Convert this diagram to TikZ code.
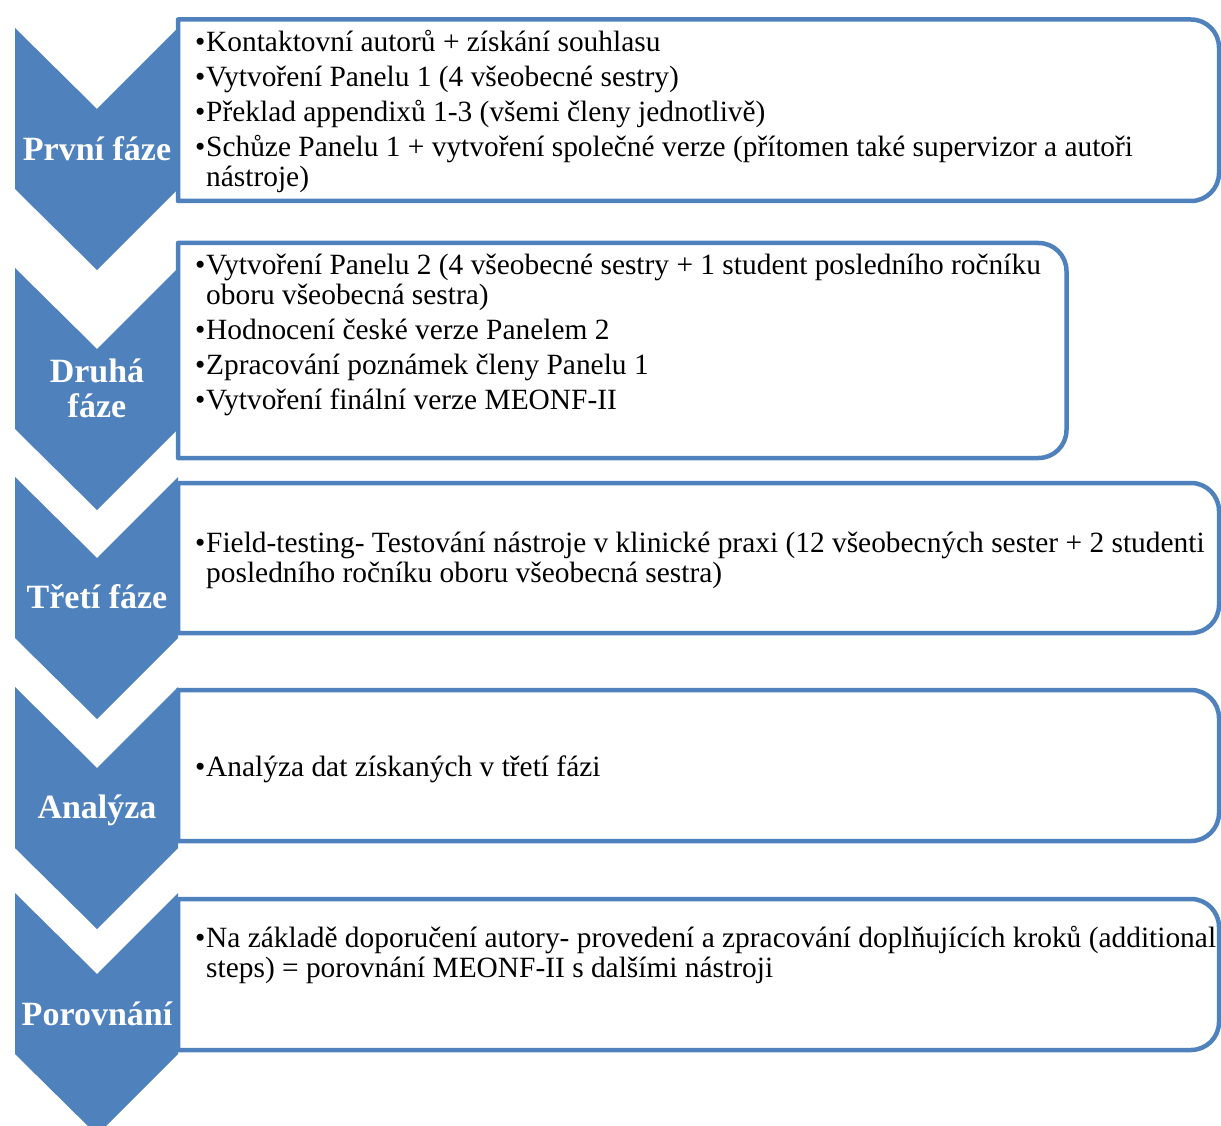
\documentclass[tikz,border=0pt]{standalone}
\usepackage{fontspec}
\setmainfont{Liberation Serif}
\definecolor{ofblue}{HTML}{4F81BD}
\tikzset{
  chev/.style={fill=ofblue, draw=none},
  boxline/.style={draw=ofblue, line width=4.5pt, fill=white, line join=round},
  lab/.style={text=white, font=\fontsize{34}{35}\selectfont\bfseries, anchor=base, inner sep=0pt},
  body/.style={anchor=base west, inner sep=0pt, font=\fontsize{29.4}{30}\selectfont},
}
\newcommand{\itm}{\makebox[11pt][l]{•}}
\newcommand{\cont}{\hspace*{11pt}}
\newcommand{\rbox}[3]{%
  \draw[boxline] (178,#1) -- ({#3-28},#1) arc[start angle=-90,end angle=0,radius=28]
    -- (#3,{#2-28}) arc[start angle=0,end angle=90,radius=28] -- (178,#2) -- cycle;}
\newcommand{\bodytext}[1]{\parbox[t]{1100pt}{\raggedright\baselineskip=30pt #1}}
\begin{document}
\begin{tikzpicture}[x=1pt,y=-1pt]
\useasboundingbox (0,0) rectangle (1221,1126);
\clip (0,0) rectangle (1221,1126);
% boxes
\rbox{19.5}{201}{1219}
\rbox{243}{458}{1066.5}
\rbox{483}{633}{1219}
\rbox{690}{841}{1219}
\rbox{899}{1050}{1219}
% chevrons
\foreach \t in {28,268,477,687,893}{
  \fill[chev] (15,\t) -- (97,\t+81) -- (178,\t) -- (178,\t+161) -- (97,\t+242) -- (15,\t+161) -- cycle;
}
% labels
\node[lab] (l1) at (97,161) {První fáze};
\node[lab] (l2) at (97,382) {\parbox[t]{160pt}{\centering\baselineskip=35pt Druhá\\fáze}};
\node[lab] (l3) at (97,608) {Třetí fáze};
\node[lab] (l4) at (97,818) {Analýza};
\node[lab] (l5) at (97,1025) {Porovnání};
% texts
\node[body] (t1) at (195,51.5) {\bodytext{%
\itm Kontaktovní autorů + získání souhlasu\\[5pt]
\itm Vytvoření Panelu 1 (4 všeobecné sestry)\\[5pt]
\itm Překlad appendixů 1-3 (všemi členy jednotlivě)\\[5pt]
\itm Schůze Panelu 1 + vytvoření společné verze (přítomen také supervizor a autoři\\
\cont nástroje)}};
\node[body] (t2) at (195,274.5) {\bodytext{%
\itm Vytvoření Panelu 2 (4 všeobecné sestry + 1 student posledního ročníku\\
\cont oboru všeobecná sestra)\\[5pt]
\itm Hodnocení české verze Panelem 2\\[5pt]
\itm Zpracování poznámek členy Panelu 1\\[5pt]
\itm Vytvoření finální verze MEONF-II}};
\node[body] (t3) at (195,552.5) {\bodytext{%
\itm Field-testing- Testování nástroje v klinické praxi (12 všeobecných sester + 2 studenti\\
\cont posledního ročníku oboru všeobecná sestra)}};
\node[body] (t4) at (195,776.5) {\bodytext{%
\itm Analýza dat získaných v třetí fázi}};
\node[body] (t5) at (195,947.5) {\bodytext{%
\itm Na základě doporučení autory- provedení a zpracování doplňujících kroků (additional\\
\cont steps) = porovnání MEONF-II s dalšími nástroji}};
\end{tikzpicture}
\end{document}
